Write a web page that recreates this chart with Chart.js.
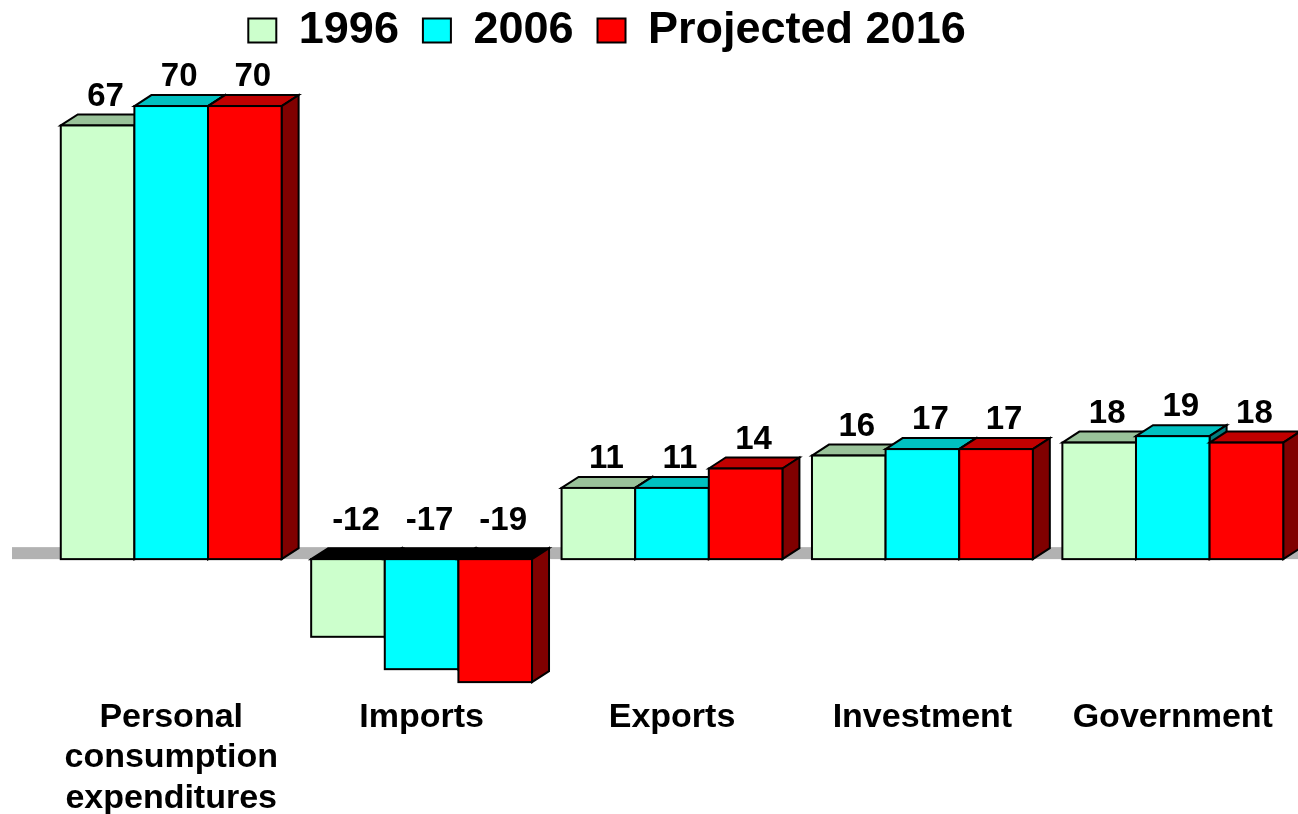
<!DOCTYPE html>
<html><head><meta charset="utf-8">
<script src="https://cdn.jsdelivr.net/npm/chart.js@4.4.0/dist/chart.umd.min.js"></script>
<style>html,body{margin:0;padding:0;background:#fff;overflow:hidden;} #wrap{width:1298px;height:814px;position:relative;}</style>
</head><body><div id="wrap"><canvas id="c" width="1298" height="814"></canvas></div>
<script>
const categories = [['Personal','consumption','expenditures'],'Imports','Exports','Investment','Government'];
const seriesNames = ['1996','2006','Projected 2016'];
const values1996 = [67,-12,11,16,18];
const values2006 = [70,-17,11,17,19];
const values2016 = [70,-19,14,17,18];

const FRONT = ['#CCFFCC','#00FFFF','#FF0000'];
const TOPC = ['#99C299','#00C0C0','#C00000'];
const SIDE = ['#6E9A6E','#008080','#800000'];
const DX = 17, DY = 11;
const FONT = "'Liberation Sans', Arial, sans-serif";

const bar3d = {
  id: 'bar3d',
  afterLayout(chart) { chart.legend.left -= 130; },
  beforeDatasetDraw() { return false; },
  afterDatasetsDraw(chart) {
    const {ctx, chartArea} = chart;
    const y0 = chart.scales.y.getPixelForValue(0);
    ctx.save();
    ctx.fillStyle = '#B2B2B2';
    const left = chartArea.left - 34;
    ctx.fillRect(left, y0 - DY - 1, chartArea.right - left, DY + 1);
    ctx.lineWidth = 2; ctx.strokeStyle = '#000'; ctx.lineJoin = 'miter';
    const n = chart.data.labels.length;
    for (let j = 0; j < n; j++) {
      chart.data.datasets.forEach((ds, i) => {
        const el = chart.getDatasetMeta(i).data[j];
        const {x, y, base, width} = el.getProps(['x','y','base','width'], true);
        const l = x - width/2, r = x + width/2;
        const top = Math.min(y, base), bot = Math.max(y, base);
        const neg = y > base;
        ctx.beginPath();
        ctx.moveTo(l, top); ctx.lineTo(l+DX, top-DY); ctx.lineTo(r+DX, top-DY); ctx.lineTo(r, top); ctx.closePath();
        ctx.fillStyle = neg ? '#000' : TOPC[i]; ctx.fill(); ctx.stroke();
        ctx.beginPath();
        ctx.moveTo(r, top); ctx.lineTo(r+DX, top-DY); ctx.lineTo(r+DX, bot-DY); ctx.lineTo(r, bot); ctx.closePath();
        ctx.fillStyle = SIDE[i]; ctx.fill(); ctx.stroke();
        ctx.fillStyle = FRONT[i];
        ctx.fillRect(l, top, width, bot - top);
        ctx.strokeRect(l, top, width, bot - top);
      });
    }
    ctx.font = 'bold 33px ' + FONT;
    ctx.fillStyle = '#000'; ctx.textAlign = 'center'; ctx.textBaseline = 'middle';
    chart.data.datasets.forEach((ds, i) => {
      chart.getDatasetMeta(i).data.forEach((el, j) => {
        const v = ds.data[j];
        const {x, y, base} = el.getProps(['x','y','base'], true);
        const ly = v >= 0 ? y - 29 : base - 38;
        ctx.fillText(String(v), x + 8, ly);
      });
    });
    ctx.restore();
  }
};

new Chart(document.getElementById('c'), {
  type: 'bar',
  data: {
    labels: categories,
    datasets: [
      {label: seriesNames[0], data: values1996, backgroundColor: FRONT[0], borderWidth: 0},
      {label: seriesNames[1], data: values2006, backgroundColor: FRONT[1], borderWidth: 0},
      {label: seriesNames[2], data: values2016, backgroundColor: FRONT[2], borderWidth: 0}
    ]
  },
  options: {
    responsive: false,
    animation: false,
    devicePixelRatio: 1,
    barPercentage: 1,
    categoryPercentage: 0.882,
    layout: {padding: {top: -16, left: 46, right: 0, bottom: 0}},
    plugins: {
      tooltip: {enabled: false},
      legend: {
        position: 'top',
        labels: {
          font: {size: 45, weight: 'bold', family: FONT},
          color: '#000', boxWidth: 28, boxHeight: 24, padding: 24,
          generateLabels(chart) {
            const items = Chart.defaults.plugins.legend.labels.generateLabels(chart);
            items.forEach(it => { it.lineWidth = 2; it.strokeStyle = '#000'; });
            return items;
          }
        }
      }
    },
    scales: {
      x: {
        grid: {display: false, drawTicks: false},
        border: {display: false},
        ticks: {font: {size: 34, weight: 'bold', family: FONT, lineHeight: 1.19}, color: '#000', maxRotation: 0, minRotation: 0, autoSkip: false, padding: 0},
        afterFit(s) { s.height = 117; }
      },
      y: {display: false, min: -21.3, max: 76.65}
    }
  },
  plugins: [bar3d]
});
</script>
</body></html>
